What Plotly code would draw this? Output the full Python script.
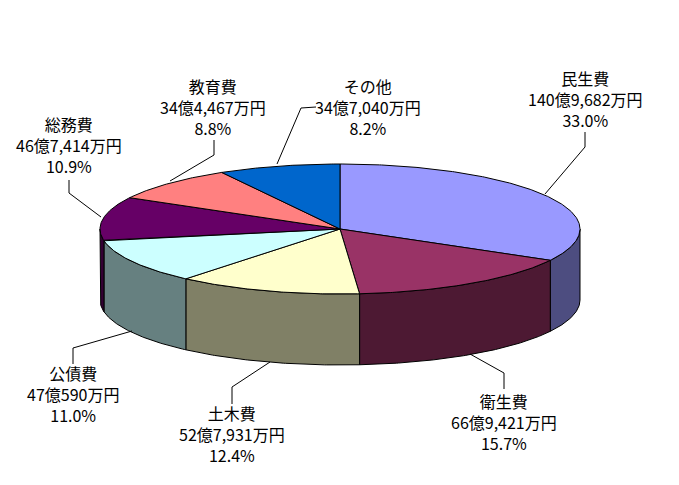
import numpy as np
import plotly.graph_objects as go

# Data
categories = ['民生費', '衛生費', '土木費', '公債費', '総務費', '教育費', 'その他']
amounts = ['140億9,682万円', '66億9,421万円', '52億7,931万円', '47億590万円',
           '46億7,414万円', '34億4,467万円', '34億7,040万円']
percents = [33.0, 15.7, 12.4, 11.0, 10.9, 8.8, 8.2]

top_colors = ['#9999FF', '#993366', '#FFFFCC', '#CCFFFF', '#660066', '#FF8080', '#0066CC']
side_colors = ['#4D4D80', '#4D1933', '#808066', '#668080', '#330033', '#804040', '#003366']

# pie geometry, in pixels
cx, cy = 340, 229
rx, ry = 240, 65
depth = 71

# label centre and leader line for each slice
label_pos = [(585, 99), (504, 422), (232, 434), (73, 394), (69, 145), (213, 107), (368, 107)]
leaders = [
    [(585, 132), (585, 147), (545, 194)],
    [(504, 389), (504, 373), (470, 354)],
    [(232, 404), (232, 387), (270, 362)],
    [(73, 364), (73, 348), (132, 331)],
    [(69, 180), (69, 193), (101, 217)],
    [(214, 140), (214, 155), (170, 181)],
    [(316, 107), (301, 108), (277, 164)],
]


def rim(a0, a1):
    t = np.radians(np.linspace(a0, a1, int(abs(a1 - a0) * 2) + 2))
    return cx + rx * np.sin(t), cy - ry * np.cos(t)


fig = go.Figure()

edges = np.concatenate([[0], np.cumsum(percents)]) / sum(percents) * 360

# sides first, only the front half of the pie shows
for i in range(len(percents)):
    a0, a1 = max(edges[i], 90), min(edges[i + 1], 270)
    if a1 <= a0:
        continue
    x, y = rim(a0, a1)
    fig.add_trace(go.Scatter(
        x=np.concatenate([x, x[::-1], x[:1]]),
        y=np.concatenate([y, y[::-1] + depth, y[:1]]),
        fill='toself', fillcolor=side_colors[i], mode='lines',
        line=dict(color='black', width=1), hoverinfo='skip'))

# top faces
for i in range(len(percents)):
    x, y = rim(edges[i], edges[i + 1])
    fig.add_trace(go.Scatter(
        x=np.concatenate([[cx], x, [cx]]),
        y=np.concatenate([[cy], y, [cy]]),
        fill='toself', fillcolor=top_colors[i], mode='lines',
        line=dict(color='black', width=1), hoverinfo='skip'))

# leader lines and labels
for i, name in enumerate(categories):
    fig.add_trace(go.Scatter(
        x=[p[0] for p in leaders[i]], y=[p[1] for p in leaders[i]],
        mode='lines', line=dict(color='black', width=1), hoverinfo='skip'))
    fig.add_annotation(
        x=label_pos[i][0], y=label_pos[i][1], showarrow=False, align='center',
        text=f'{name}<br>{amounts[i]}<br>{percents[i]:.1f}%')

fig.update_layout(
    width=679, height=485, margin=dict(l=0, r=0, t=0, b=0),
    showlegend=False, paper_bgcolor='white', plot_bgcolor='white',
    font=dict(family='Noto Sans CJK JP', size=16, color='black'),
    xaxis=dict(range=[0, 679], visible=False),
    yaxis=dict(range=[485, 0], visible=False),
)

# body margin would push the plot 8px off
fig.write_html('out.html', config=dict(displayModeBar=False),
               post_script="document.body.style.margin = '0';")
